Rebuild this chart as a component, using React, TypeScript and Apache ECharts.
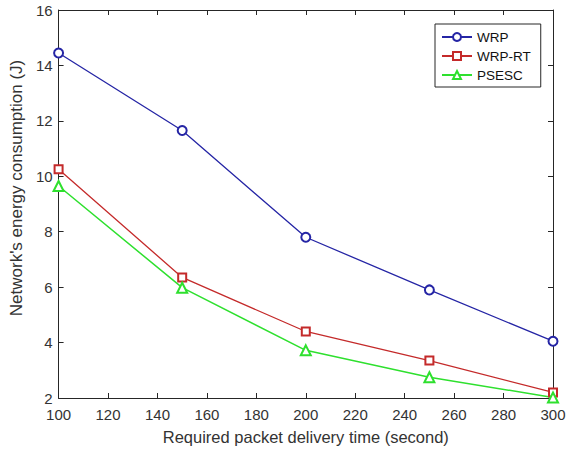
import React, { useEffect, useRef } from "react";
import * as echarts from "echarts";

const xValues = [100, 150, 200, 250, 300];
const wrp = [14.45, 11.65, 7.8, 5.9, 4.05];
const wrpRt = [10.25, 6.35, 4.4, 3.35, 2.2];
const psesc = [9.65, 5.98, 3.72, 2.75, 2.02];
const seriesNames = ["WRP", "WRP-RT", "PSESC"];

export default function App() {
  const ref = useRef<HTMLDivElement>(null);
  useEffect(() => {
    if (!ref.current) return;
    const chart = echarts.init(ref.current, null, { renderer: "svg" });
    const font = "Liberation Sans";
    const txt = "#333333";
    const axisLine = { show: true, lineStyle: { color: "#262626", width: 1 } };
    const tick = { inside: true, length: 5, lineStyle: { color: "#262626" } };
    const pair = (arr: number[]) => xValues.map((x, i) => [x, arr[i]]);
    chart.setOption({
      animation: false,
      backgroundColor: "#fff",
      textStyle: { fontFamily: font },
      grid: { left: 57, right: 16, top: 10, bottom: 51 },
      legend: {
        orient: "vertical",
        left: 435,
        top: 24,
        width: 103,
        borderColor: "#262626",
        borderWidth: 1,
        padding: [6, 10, 5, 6],
        itemGap: 5,
        itemWidth: 30,
        itemHeight: 10,
        data: seriesNames,
        textStyle: { fontFamily: font, fontSize: 13.5, color: "#111" },
      },
      xAxis: [
        {
          type: "value",
          min: 100,
          max: 300,
          interval: 20,
          position: "bottom",
          axisLine,
          axisTick: tick,
          axisLabel: { fontSize: 15, color: txt, margin: 9, fontFamily: font },
          splitLine: { show: false },
          name: "Required packet delivery time (second)",
          nameLocation: "middle",
          nameGap: 30,
          nameTextStyle: { fontSize: 16.5, color: txt, fontFamily: font },
        },
        {
          type: "value",
          min: 100,
          max: 300,
          interval: 20,
          position: "top",
          axisLine,
          axisTick: tick,
          axisLabel: { show: false },
          splitLine: { show: false },
        },
      ],
      yAxis: [
        {
          type: "value",
          min: 2,
          max: 16,
          interval: 2,
          position: "left",
          axisLine,
          axisTick: tick,
          axisLabel: { fontSize: 15, color: txt, margin: 6, fontFamily: font },
          splitLine: { show: false },
          name: "Network's energy consumption (J)",
          nameLocation: "middle",
          nameGap: 24,
          nameTextStyle: { fontSize: 17, color: txt, fontFamily: font, padding: [0, 0, 0, 32] },
        },
        {
          type: "value",
          min: 2,
          max: 16,
          interval: 2,
          position: "right",
          axisLine,
          axisTick: tick,
          axisLabel: { show: false },
          splitLine: { show: false },
        },
      ],
      series: [
        {
          name: "WRP",
          type: "line",
          data: pair(wrp),
          symbol: "emptyCircle",
          symbolSize: 9,
          color: "#2525a5",
          lineStyle: { width: 1.3, color: "#2525a5" },
          itemStyle: { color: "#2525a5", borderWidth: 1.5 },
        },
        {
          name: "WRP-RT",
          type: "line",
          data: pair(wrpRt),
          symbol: "emptyRect",
          symbolSize: 8,
          color: "#c42a2a",
          lineStyle: { width: 1.3, color: "#c42a2a" },
          itemStyle: { color: "#c42a2a", borderWidth: 1.5 },
        },
        {
          name: "PSESC",
          type: "line",
          data: pair(psesc),
          symbol: "emptyTriangle",
          symbolSize: 10,
          color: "#2ee02e",
          lineStyle: { width: 1.5, color: "#2ee02e" },
          itemStyle: { color: "#2ee02e", borderWidth: 1.5 },
        },
      ],
    });
    return () => chart.dispose();
  }, []);
  return <div ref={ref} style={{ width: 569, height: 450, position: "absolute", left: 0, top: 0 }} />;
}
